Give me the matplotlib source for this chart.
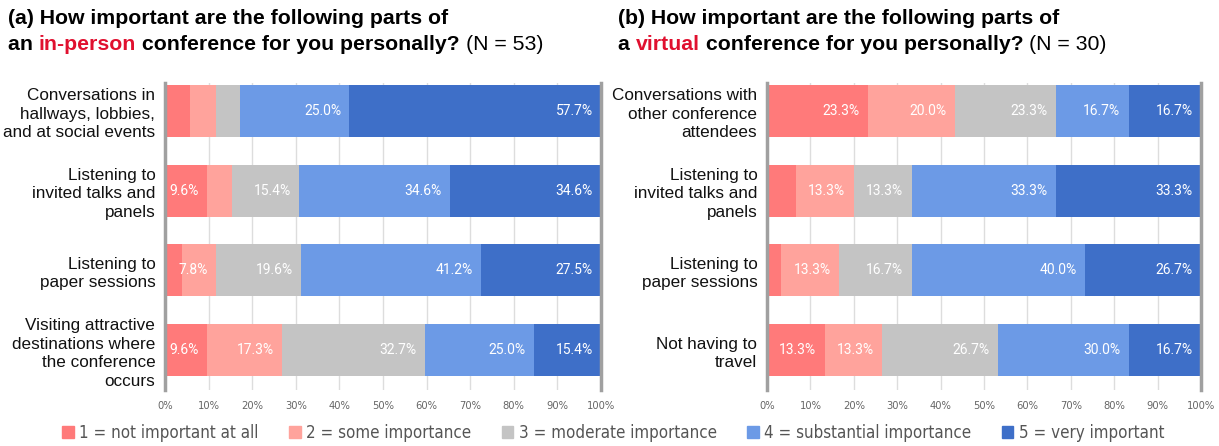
import matplotlib
matplotlib.use("Agg")
import matplotlib.pyplot as plt
from matplotlib import font_manager
from matplotlib.patches import Patch
import numpy as np

# ---- data ----
cats_a = ["Conversations in\nhallways, lobbies,\nand at social events",
          "Listening to\ninvited talks and\npanels",
          "Listening to\npaper sessions",
          "Visiting attractive\ndestinations where\nthe conference\noccurs"]
cats_b = ["Conversations with\nother conference\nattendees",
          "Listening to\ninvited talks and\npanels",
          "Listening to\npaper sessions",
          "Not having to\ntravel"]

# rows = categories, columns = levels 1..5 (percent)
vals_a = [[5.8, 5.8, 5.7, 25.0, 57.7],
          [9.6, 5.8, 15.4, 34.6, 34.6],
          [3.9, 7.8, 19.6, 41.2, 27.5],
          [9.6, 17.3, 32.7, 25.0, 15.4]]
vals_b = [[23.3, 20.0, 23.3, 16.7, 16.7],
          [6.7, 13.3, 13.3, 33.3, 33.3],
          [3.3, 13.3, 16.7, 40.0, 26.7],
          [13.3, 13.3, 26.7, 30.0, 16.7]]

levels = ["1 = not important at all", "2 = some importance", "3 = moderate importance",
          "4 = substantial importance", "5 = very important"]
colors = ["#FF7A7A", "#FFA39C", "#C4C4C4", "#6C9AE6", "#3E6FC8"]
xticks = list(range(0, 101, 10))

# look for a narrow / condensed font file for ticks and legend
narrow_file = None
files = [f.fname for f in font_manager.fontManager.ttflist]
for key in ["LiberationSansNarrow-Regular", "DejaVuSansCondensed.ttf", "RobotoCondensed-Regular",
            "OpenSans_Condensed-Regular", "OpenSansCondensed", "Condensed"]:
    hits = [f for f in files if key in f and "Bold" not in f and "Italic" not in f and "Oblique" not in f]
    if hits:
        narrow_file = hits[0]
        break


def narrow(size):
    if narrow_file:
        return font_manager.FontProperties(fname=narrow_file, size=size)
    return font_manager.FontProperties(family="DejaVu Sans", size=size * 0.85)


sans = "Liberation Sans"

W, H = 1219, 446
fig = plt.figure(figsize=(W / 100, H / 100), dpi=100)


def panel(left, width, cats, vals):
    ax = fig.add_axes([left / W, 56 / H, width / W, 307 / H])
    v = np.array(vals)
    y = np.arange(len(cats))
    start = np.zeros(len(cats))
    for j in range(v.shape[1]):
        bars = ax.barh(y, v[:, j], left=start, height=0.65, color=colors[j], zorder=2)
        for i, b in enumerate(bars):
            if v[i, j] >= 7:
                ax.annotate(f"{v[i, j]:.1f}%", (start[i] + v[i, j], y[i]),
                            xytext=(-6, 0), textcoords="offset points",
                            ha="right", va="center", color="white", fontsize=10,
                            family="Roboto", zorder=3)
        start += v[:, j]
    ax.set_xlim(0, 100)
    ax.set_ylim(3.5, -0.35)
    ax.set_yticks(y)
    ax.set_yticklabels(cats, fontsize=12.3, family=sans, color="#111111", linespacing=1.3)
    ax.set_xticks(xticks)
    ax.set_xticklabels([f"{t}%" for t in xticks], color="#666666")
    for lab in ax.get_xticklabels():
        lab.set_fontproperties(narrow(8))
    ax.tick_params(length=0, axis="y", pad=7)
    ax.tick_params(length=0, axis="x", pad=8)
    ax.grid(axis="x", color="#DDDDDD", linewidth=1, zorder=0)
    for s in ["top", "bottom"]:
        ax.spines[s].set_visible(False)
    for s in ["left", "right"]:
        ax.spines[s].set_color("#A0A0A0")
        ax.spines[s].set_linewidth(2.5)
        ax.spines[s].set_zorder(4)
    return ax


panel(165, 436, cats_a, vals_a)
panel(767, 434, cats_b, vals_b)

# titles made of pieces (mixed colour / weight)
renderer = fig.canvas.get_renderer()


def rich(x, y, pieces, size=15.3):
    for txt, col, wt in pieces:
        t = fig.text(x / W, 1 - y / H, txt, color=col, fontweight=wt, fontsize=size,
                     family=sans, va="center", ha="left")
        bb = t.get_window_extent(renderer)
        x += bb.width


red = "#E0102F"
rich(8, 18, [("(a) How important are the following parts of", "black", "bold")])
rich(8, 45, [("an ", "black", "bold"), ("in-person", red, "bold"),
             (" conference for you personally? ", "black", "bold"), ("(N = 53)", "black", "normal")])
rich(618, 18, [("(b) How important are the following parts of", "black", "bold")])
rich(618, 45, [("a ", "black", "bold"), ("virtual", red, "bold"),
               (" conference for you personally? ", "black", "bold"), ("(N = 30)", "black", "normal")])

handles = [Patch(color=c, label=l) for c, l in zip(colors, levels)]
leg = fig.legend(handles=handles, loc="center", bbox_to_anchor=(0.503, 1 - 433 / H), ncol=5,
                 frameon=False, handlelength=0.7, handleheight=0.7, handletextpad=0.3,
                 columnspacing=1.8, prop=narrow(12.2), labelcolor="#555555")

fig.savefig("out.png", dpi=100)
